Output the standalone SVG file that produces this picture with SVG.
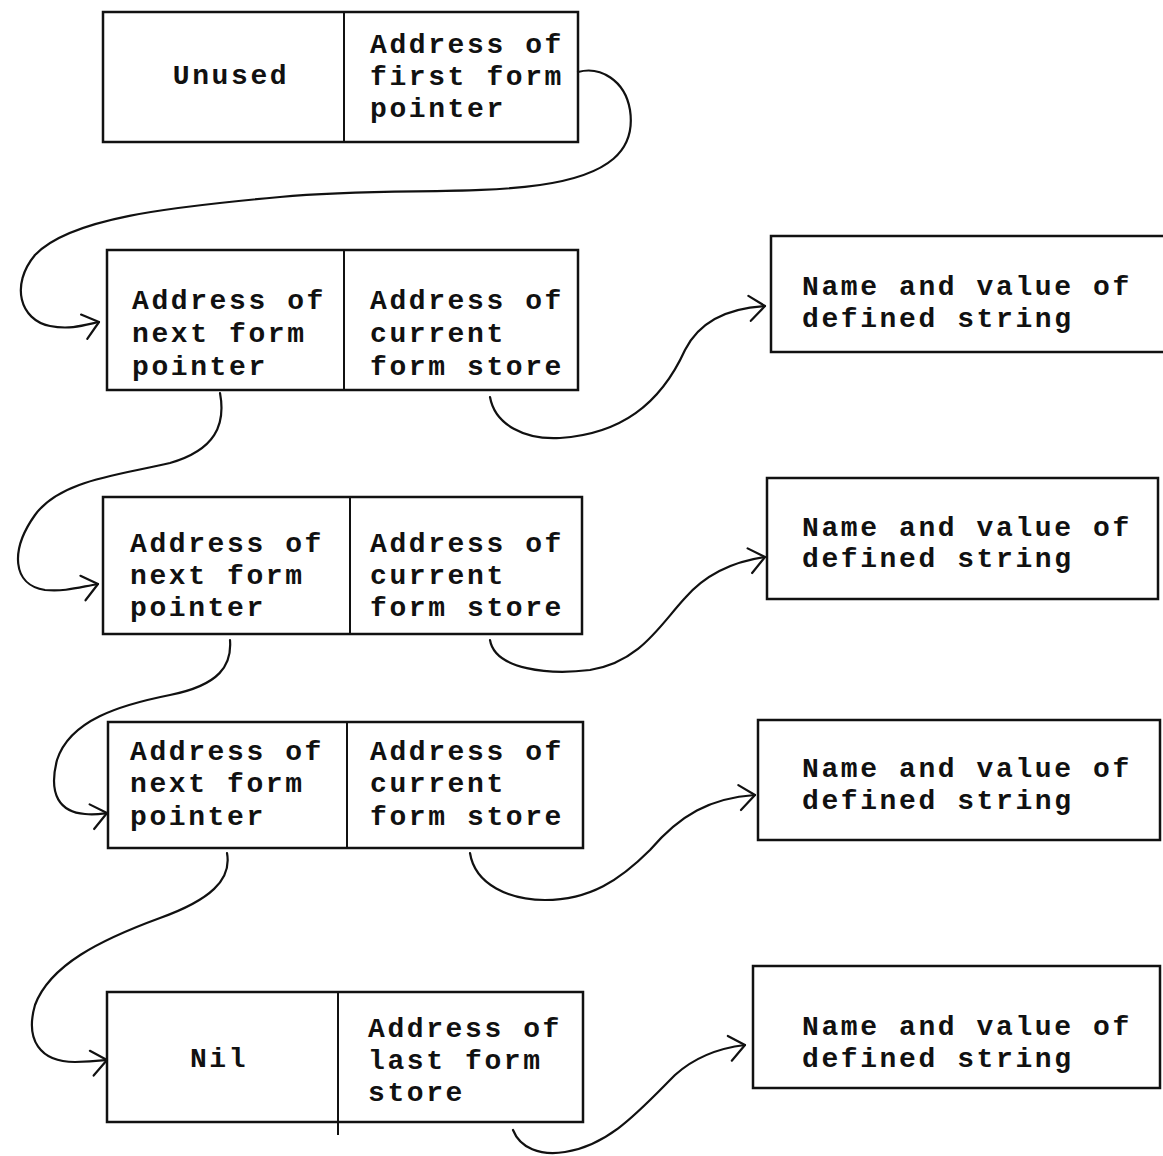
<svg xmlns="http://www.w3.org/2000/svg" width="1163" height="1156" viewBox="0 0 1163 1156">
<style>
.box{fill:none;stroke:#111;stroke-width:2.5}
.div{stroke:#111;stroke-width:2}
.t{font-family:"Liberation Mono","Courier New",monospace;font-weight:bold;font-size:28px;letter-spacing:2.6px;fill:#111}
.c{fill:none;stroke:#111;stroke-width:2.2;stroke-linecap:round}
</style>
<defs>
<marker id="arr" markerUnits="userSpaceOnUse" markerWidth="40" markerHeight="40" refX="20" refY="20" orient="auto">
<path d="M4,9 L20,20 L5,34" fill="none" stroke="#111" stroke-width="2.2" stroke-linecap="round" stroke-linejoin="round"/>
</marker>
</defs>
<rect width="1163" height="1156" fill="#fff"/>

<g id="node1">
<rect class="box" x="103" y="12" width="475" height="130"/>
<line class="div" x1="344" y1="12" x2="344" y2="142"/>
<text class="t" x="231" y="84" text-anchor="middle">Unused</text>
<text class="t" x="370" y="53">Address of</text>
<text class="t" x="370" y="85">first form</text>
<text class="t" x="370" y="117">pointer</text>
</g>

<g id="node2">
<rect class="box" x="107" y="250" width="471" height="140"/>
<line class="div" x1="344" y1="250" x2="344" y2="390"/>
<text class="t" x="132" y="309">Address of</text>
<text class="t" x="132" y="342">next form</text>
<text class="t" x="132" y="375">pointer</text>
<text class="t" x="370" y="309">Address of</text>
<text class="t" x="370" y="342">current</text>
<text class="t" x="370" y="375">form store</text>
</g>

<g id="string2">
<rect class="box" x="771" y="236" width="420" height="116"/>
<text class="t" x="802" y="295">Name and value of</text>
<text class="t" x="802" y="327">defined string</text>
</g>

<g id="node3">
<rect class="box" x="103" y="497" width="479" height="137"/>
<line class="div" x1="350" y1="497" x2="350" y2="634"/>
<text class="t" x="130" y="552">Address of</text>
<text class="t" x="130" y="584">next form</text>
<text class="t" x="130" y="616">pointer</text>
<text class="t" x="370" y="552">Address of</text>
<text class="t" x="370" y="584">current</text>
<text class="t" x="370" y="616">form store</text>
</g>

<g id="string3">
<rect class="box" x="767" y="478" width="391" height="121"/>
<text class="t" x="802" y="536">Name and value of</text>
<text class="t" x="802" y="567">defined string</text>
</g>

<g id="node4">
<rect class="box" x="108" y="722" width="475" height="126"/>
<line class="div" x1="347" y1="722" x2="347" y2="848"/>
<text class="t" x="130" y="760">Address of</text>
<text class="t" x="130" y="792">next form</text>
<text class="t" x="130" y="825">pointer</text>
<text class="t" x="370" y="760">Address of</text>
<text class="t" x="370" y="792">current</text>
<text class="t" x="370" y="825">form store</text>
</g>

<g id="string4">
<rect class="box" x="758" y="720" width="402" height="120"/>
<text class="t" x="802" y="777">Name and value of</text>
<text class="t" x="802" y="809">defined string</text>
</g>

<g id="node5">
<rect class="box" x="107" y="992" width="476" height="130"/>
<line class="div" x1="338" y1="992" x2="338" y2="1135"/>
<text class="t" x="219" y="1067" text-anchor="middle">Nil</text>
<text class="t" x="368" y="1037">Address of</text>
<text class="t" x="368" y="1069">last form</text>
<text class="t" x="368" y="1101">store</text>
</g>

<g id="string5">
<rect class="box" x="753" y="966" width="407" height="122"/>
<text class="t" x="802" y="1035">Name and value of</text>
<text class="t" x="802" y="1067">defined string</text>
</g>

<g id="connectors">
<path class="c" marker-end="url(#arr)" d="M578,72 C600,66 625,80 630,110 C636,150 610,175 540,185 C470,195 380,188 280,197 C170,207 70,218 35,255 C10,285 20,320 50,326 C70,330 85,325 99,322"/>
<path class="c" marker-end="url(#arr)" d="M490,397 C495,425 525,440 560,438 C620,434 660,405 685,350 C700,320 730,308 765,306"/>
<path class="c" marker-end="url(#arr)" d="M220,393 C226,425 215,450 170,463 C120,475 60,480 35,515 C10,550 12,585 45,590 C65,592 80,587 98,584"/>
<path class="c" marker-end="url(#arr)" d="M490,640 C495,670 550,675 590,670 C640,662 660,625 685,598 C705,575 730,562 765,557"/>
<path class="c" marker-end="url(#arr)" d="M230,640 C232,665 220,685 170,695 C120,705 70,720 57,760 C48,795 60,812 85,814 C95,815 100,814 107,813"/>
<path class="c" marker-end="url(#arr)" d="M470,853 C475,885 510,900 545,900 C590,900 620,880 650,850 C680,815 710,798 755,795"/>
<path class="c" marker-end="url(#arr)" d="M227,853 C232,880 210,900 160,918 C100,940 50,965 35,1005 C25,1040 40,1062 75,1062 C90,1062 98,1061 107,1060"/>
<path class="c" marker-end="url(#arr)" d="M513,1130 C520,1148 540,1156 565,1152 C610,1145 640,1110 675,1075 C695,1057 720,1048 745,1045"/>
</g>
</svg>
